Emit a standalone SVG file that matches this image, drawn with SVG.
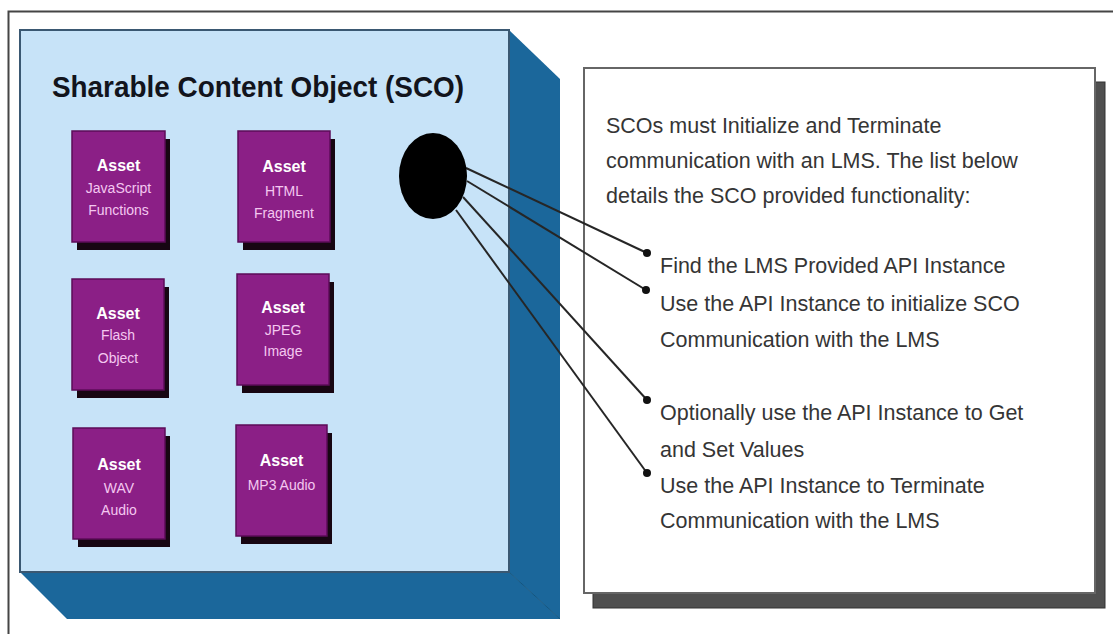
<svg xmlns="http://www.w3.org/2000/svg" width="1113" height="634" viewBox="0 0 1113 634">
  <style>
    .frame { fill: none; stroke: #454545; stroke-width: 2; }
    .front { fill: #c7e3f8; stroke: #3a5872; stroke-width: 2; }
    .depth { fill: #1b679b; }
    .edge { fill: none; stroke: #14557f; stroke-width: 1; }
    .asset-shadow { fill: #170612; }
    .asset-face { fill: #8b1f86; stroke: #5c0d58; stroke-width: 1.5; }
    .asset-title { font-family: "Liberation Sans", Arial, sans-serif; font-weight: bold; font-size: 16px; fill: #ffffff; text-anchor: middle; }
    .asset-sub { font-family: "Liberation Sans", Arial, sans-serif; font-size: 14px; fill: #f4c8f0; text-anchor: middle; }
    .title { font-family: "Liberation Sans", Arial, sans-serif; font-weight: bold; font-size: 29.5px; fill: #12141c; }
    .body { font-family: "Liberation Sans", Arial, sans-serif; font-size: 21.5px; fill: #353535; }
    .panel-shadow { fill: #4f4f4f; stroke: #333; stroke-width: 1; }
    .panel { fill: #ffffff; stroke: #666666; stroke-width: 2; }
    .link { fill: none; stroke: #262626; stroke-width: 2; }
    .dot { fill: #111111; }
  </style>

  <!-- outer frame (top and left rules) -->
  <path class="frame" d="M8.5 634 V11.5 H1113"/>

  <!-- SCO box drawn as a 3D block -->
  <g id="sco">
    <polygon class="depth" points="509,30 560,79 560,619 509,572"/>
    <polygon class="depth" points="20,572 509,572 560,619 67,619"/>
    <line class="edge" x1="509" y1="572" x2="560" y2="619"/>
    <rect class="front" x="20" y="30" width="489" height="542"/>
    <text class="title" x="52" y="97" textLength="412" lengthAdjust="spacingAndGlyphs">Sharable Content Object (SCO)</text>
  </g>

  <!-- assets -->
  <g id="asset-javascript">
    <rect class="asset-shadow" x="77" y="139" width="93" height="111"/>
    <rect class="asset-face" x="72" y="131" width="93" height="111"/>
    <text class="asset-title" x="118.5" y="171">Asset</text>
    <text class="asset-sub" x="118.5" y="193">JavaScript</text>
    <text class="asset-sub" x="118.5" y="215">Functions</text>
  </g>
  <g id="asset-html">
    <rect class="asset-shadow" x="243" y="139" width="92" height="111"/>
    <rect class="asset-face" x="238" y="131" width="92" height="111"/>
    <text class="asset-title" x="284" y="172">Asset</text>
    <text class="asset-sub" x="284" y="196">HTML</text>
    <text class="asset-sub" x="284" y="218">Fragment</text>
  </g>
  <g id="asset-flash">
    <rect class="asset-shadow" x="77" y="287" width="92" height="111"/>
    <rect class="asset-face" x="72" y="279" width="92" height="111"/>
    <text class="asset-title" x="118" y="319">Asset</text>
    <text class="asset-sub" x="118" y="340">Flash</text>
    <text class="asset-sub" x="118" y="363">Object</text>
  </g>
  <g id="asset-jpeg">
    <rect class="asset-shadow" x="242" y="282" width="92" height="111"/>
    <rect class="asset-face" x="237" y="274" width="92" height="111"/>
    <text class="asset-title" x="283" y="313">Asset</text>
    <text class="asset-sub" x="283" y="335">JPEG</text>
    <text class="asset-sub" x="283" y="356">Image</text>
  </g>
  <g id="asset-wav">
    <rect class="asset-shadow" x="78" y="436" width="92" height="111"/>
    <rect class="asset-face" x="73" y="428" width="92" height="111"/>
    <text class="asset-title" x="119" y="470">Asset</text>
    <text class="asset-sub" x="119" y="493">WAV</text>
    <text class="asset-sub" x="119" y="515">Audio</text>
  </g>
  <g id="asset-mp3">
    <rect class="asset-shadow" x="241" y="433" width="91" height="111"/>
    <rect class="asset-face" x="236" y="425" width="91" height="111"/>
    <text class="asset-title" x="281.5" y="466">Asset</text>
    <text class="asset-sub" x="281.5" y="490">MP3 Audio</text>
  </g>

  <!-- functionality panel -->
  <g id="functions-panel">
    <rect class="panel-shadow" x="593" y="82" width="512" height="526"/>
    <rect class="panel" x="584" y="68" width="511" height="525"/>
    <text class="body" x="606" y="133">SCOs must Initialize and Terminate</text>
    <text class="body" x="606" y="168">communication with an LMS. The list below</text>
    <text class="body" x="606" y="203">details the SCO provided functionality:</text>
    <text class="body" x="660" y="273">Find the LMS Provided API Instance</text>
    <text class="body" x="660" y="311">Use the API Instance to initialize SCO</text>
    <text class="body" x="660" y="347">Communication with the LMS</text>
    <text class="body" x="660" y="420">Optionally use the API Instance to Get</text>
    <text class="body" x="660" y="457">and Set Values</text>
    <text class="body" x="660" y="493">Use the API Instance to Terminate</text>
    <text class="body" x="660" y="528">Communication with the LMS</text>
  </g>

  <!-- connectors from the SCO API point to each bullet -->
  <g id="connectors">
    <line class="link" x1="466" y1="168" x2="647" y2="253"/>
    <line class="link" x1="467" y1="181" x2="646" y2="290"/>
    <line class="link" x1="463" y1="197" x2="647" y2="400"/>
    <line class="link" x1="456" y1="210" x2="647" y2="473"/>
    <circle class="dot" cx="647" cy="253" r="4"/>
    <circle class="dot" cx="646" cy="290" r="4"/>
    <circle class="dot" cx="647" cy="400" r="4"/>
    <circle class="dot" cx="647" cy="473" r="4"/>
  </g>

  <!-- API connection point -->
  <g id="api-point">
    <ellipse cx="433" cy="176" rx="34" ry="43" fill="#000000"/>
  </g>
</svg>
